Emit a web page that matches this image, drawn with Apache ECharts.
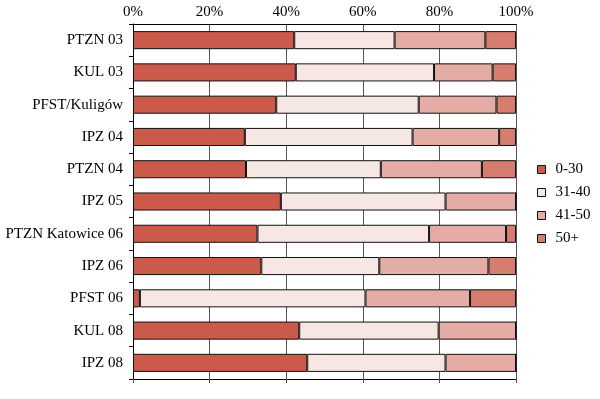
<!DOCTYPE html>
<html>
<head>
<meta charset="utf-8">
<script src="https://cdn.jsdelivr.net/npm/echarts@6/dist/echarts.min.js"></script>
<style>
html, body { margin: 0; padding: 0; background: #fff; }
#main { width: 600px; height: 399px; }
</style>
</head>
<body>
<div id="main"></div>
<script>
// dane
var categories = ['PTZN 03', 'KUL 03', 'PFST/Kuligów', 'IPZ 04', 'PTZN 04', 'IPZ 05',
    'PTZN Katowice 06', 'IPZ 06', 'PFST 06', 'KUL 08', 'IPZ 08'];
var seriesNames = ['0-30', '31-40', '41-50', '50+'];
var v0_30  = [42.1, 42.5, 37.4, 29.2, 29.5, 38.6, 32.5, 33.5, 1.8, 43.4, 45.5];
var v31_40 = [26.2, 36.1, 37.2, 43.8, 35.2, 43.0, 44.8, 30.8, 58.9, 36.4, 36.1];
var v41_50 = [23.7, 15.3, 20.3, 22.6, 26.4, 18.4, 20.1, 28.5, 27.3, 20.2, 18.4];
var v50p   = [8.0, 6.1, 5.1, 4.4, 8.9, 0, 2.6, 7.2, 12.0, 0, 0];
var colors = ['#cc5a4a', '#f6e7e4', '#e4aca4', '#d67d70'];

var font = 'Liberation Serif';
var myChart = echarts.init(document.getElementById('main'));

function bar(name, data, i) {
    return {
        name: name,
        type: 'bar',
        stack: 'all',
        barCategoryGap: '44%',
        data: data,
        itemStyle: {
            color: colors[i],
            borderColor: '#111',
            borderWidth: 1
        }
    };
}

option = {
    animation: false,
    textStyle: { fontFamily: font },
    legend: {
        orient: 'vertical',
        left: 532,
        top: 157,
        itemWidth: 8,
        itemHeight: 8,
        itemGap: 8,
        icon: 'rect',
        itemStyle: { borderColor: '#111', borderWidth: 1 },
        textStyle: { fontFamily: font, fontSize: 15, color: '#000', padding: [0, 0, 0, 5] },
        data: seriesNames
    },
    grid: {
        left: 133,
        right: 84,
        top: 24,
        bottom: 20
    },
    xAxis: [{
        type: 'value',
        position: 'top',
        min: 0,
        max: 100,
        interval: 20,
        axisLabel: {
            formatter: '{value}%',
            fontFamily: font,
            fontSize: 15,
            color: '#000',
            margin: 4
        },
        axisTick: { show: false },
        axisLine: { show: true, lineStyle: { color: '#000', width: 1 } },
        splitLine: { show: true, lineStyle: { color: '#555', width: 1 } }
    }, {
        type: 'value',
        position: 'bottom',
        min: 0,
        max: 100,
        interval: 20,
        axisLabel: { show: false },
        axisTick: { show: true, length: 4, lineStyle: { color: '#555' } },
        axisLine: { show: true, lineStyle: { color: '#000', width: 1 } },
        splitLine: { show: false }
    }],
    yAxis: {
        type: 'category',
        inverse: true,
        data: categories,
        axisLabel: {
            fontFamily: font,
            fontSize: 15,
            color: '#000',
            margin: 10
        },
        axisTick: { show: true, length: 4, lineStyle: { color: '#000' } },
        axisLine: { show: true, lineStyle: { color: '#000', width: 1 } }
    },
    series: [
        bar(seriesNames[0], v0_30, 0),
        bar(seriesNames[1], v31_40, 1),
        bar(seriesNames[2], v41_50, 2),
        bar(seriesNames[3], v50p, 3)
    ]
};

myChart.setOption(option);
window.onresize = myChart.resize;
</script>
</body>
</html>
